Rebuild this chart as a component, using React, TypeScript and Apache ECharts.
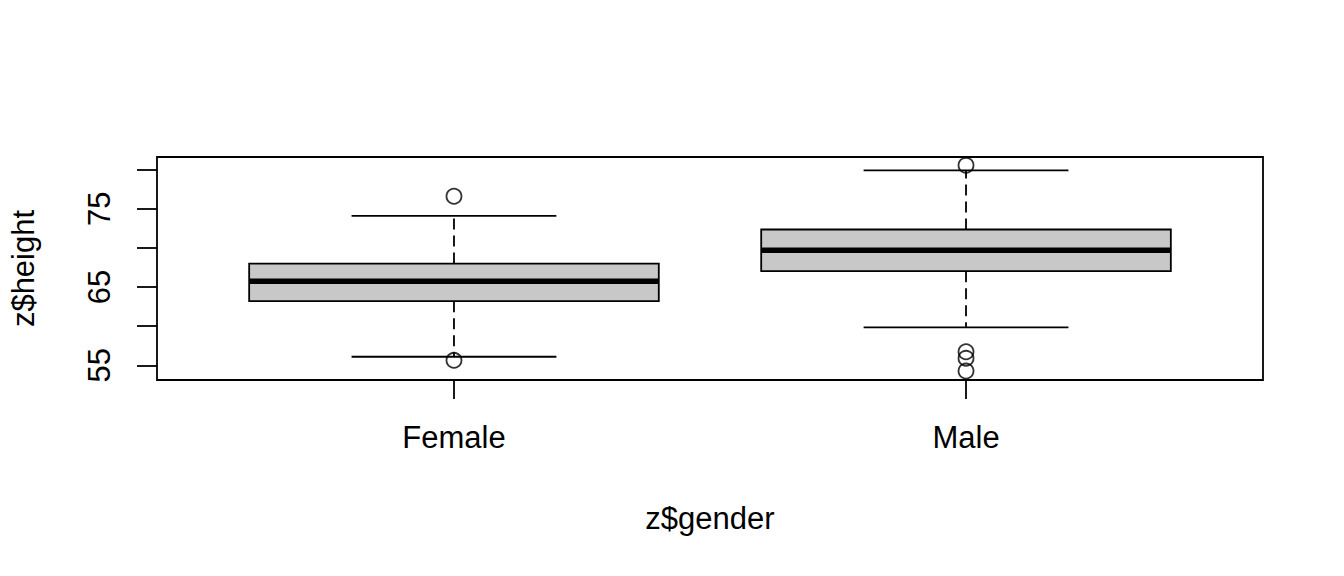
import React, { useEffect, useRef } from "react";
import * as echarts from "echarts";

const categories = ["Female", "Male"];
const positions = [1, 2];
const whiskerLow = [56.1, 59.85];
const q1 = [63.2, 67.03];
const median = [65.75, 69.7];
const q3 = [68.0, 72.35];
const whiskerHigh = [74.08, 79.9];
const outliersFemale = [76.6, 55.64];
const outliersMale = [80.55, 56.74, 55.9, 54.27];
const yTicks = [55, 60, 65, 70, 75, 80];
const yLabels = [55, 65, 75];

const FONT = "Liberation Sans";

export default function App() {
  const ref = useRef<HTMLDivElement>(null);
  useEffect(() => {
    if (!ref.current) return;
    const chart = echarts.init(ref.current, undefined, { renderer: "svg" });
    const boxData = positions.map((p, i) => [p, whiskerLow[i], q1[i], median[i], q3[i], whiskerHigh[i]]);
    const outlierData: number[][] = [];
    outliersFemale.forEach((v) => outlierData.push([positions[0], v]));
    outliersMale.forEach((v) => outlierData.push([positions[1], v]));

    const BOX_W = 0.8;
    const CAP_W = 0.4;
    const LW = 1.8;

    chart.setOption({
      animation: false,
      backgroundColor: "#ffffff",
      grid: {
        left: 157,
        top: 157,
        width: 1106,
        height: 223,
        show: true,
        borderColor: "#000",
        borderWidth: LW,
        backgroundColor: "transparent",
        containLabel: false,
        outerBoundsMode: "none",
      },
      xAxis: {
        type: "value",
        min: 0.42,
        max: 2.58,
        name: "z$gender",
        nameLocation: "middle",
        nameGap: 123,
        nameTextStyle: { fontFamily: FONT, fontSize: 31, color: "#000" },
        axisLine: { show: false },
        splitLine: { show: false },
        axisTick: {
          show: true,
          customValues: positions,
          length: 19,
          lineStyle: { color: "#000", width: LW },
        },
        axisLabel: {
          show: true,
          customValues: positions,
          formatter: (v: number) => categories[positions.indexOf(v)] ?? "",
          margin: 42,
          fontFamily: FONT,
          fontSize: 31,
          color: "#000",
        },
      },
      yAxis: {
        type: "value",
        min: 53.13,
        max: 81.61,
        name: "z$height",
        nameLocation: "middle",
        nameGap: 118,
        nameRotate: 90,
        nameTextStyle: { fontFamily: FONT, fontSize: 31, color: "#000" },
        axisLine: { show: false },
        splitLine: { show: false },
        axisTick: {
          show: true,
          customValues: yTicks,
          length: 20,
          lineStyle: { color: "#000", width: LW },
        },
        axisLabel: {
          show: true,
          customValues: yLabels,
          rotate: 90,
          margin: 42,
          fontFamily: FONT,
          fontSize: 31,
          color: "#000",
        },
      },
      series: [
        {
          type: "custom",
          data: boxData,
          encode: { x: 0, y: [1, 2, 3, 4, 5] },
          renderItem: (params: any, api: any) => {
            const x = api.value(0);
            const pLo = api.coord([x, api.value(1)]);
            const pQ1 = api.coord([x, api.value(2)]);
            const pMed = api.coord([x, api.value(3)]);
            const pQ3 = api.coord([x, api.value(4)]);
            const pHi = api.coord([x, api.value(5)]);
            const halfBox = api.size([BOX_W, 0])[0] / 2;
            const halfCap = api.size([CAP_W, 0])[0] / 2;
            const cx = pMed[0];
            const dash = { stroke: "#000", lineWidth: LW, lineDash: [11, 6] };
            const solid = { stroke: "#000", lineWidth: LW };
            return {
              type: "group",
              children: [
                { type: "line", shape: { x1: cx, y1: pQ3[1], x2: cx, y2: pHi[1] }, style: dash },
                { type: "line", shape: { x1: cx, y1: pQ1[1], x2: cx, y2: pLo[1] }, style: dash },
                { type: "line", shape: { x1: cx - halfCap, y1: pHi[1], x2: cx + halfCap, y2: pHi[1] }, style: solid },
                { type: "line", shape: { x1: cx - halfCap, y1: pLo[1], x2: cx + halfCap, y2: pLo[1] }, style: solid },
                {
                  type: "rect",
                  shape: { x: cx - halfBox, y: pQ3[1], width: halfBox * 2, height: pQ1[1] - pQ3[1] },
                  style: { fill: "#c8c8c8", stroke: "#000", lineWidth: LW },
                },
                {
                  type: "line",
                  shape: { x1: cx - halfBox, y1: pMed[1], x2: cx + halfBox, y2: pMed[1] },
                  style: { stroke: "#000", lineWidth: 5.5 },
                },
              ],
            };
          },
        },
        {
          type: "scatter",
          data: outlierData,
          symbol: "circle",
          symbolSize: 15,
          itemStyle: { color: "transparent", borderColor: "#000", borderWidth: LW },
          z: 5,
        },
      ],
    });
    return () => chart.dispose();
  }, []);
  return (
    <div
      ref={ref}
      style={{ position: "fixed", left: 0, top: 0, width: 1344, height: 576, background: "#fff" }}
    />
  );
}
